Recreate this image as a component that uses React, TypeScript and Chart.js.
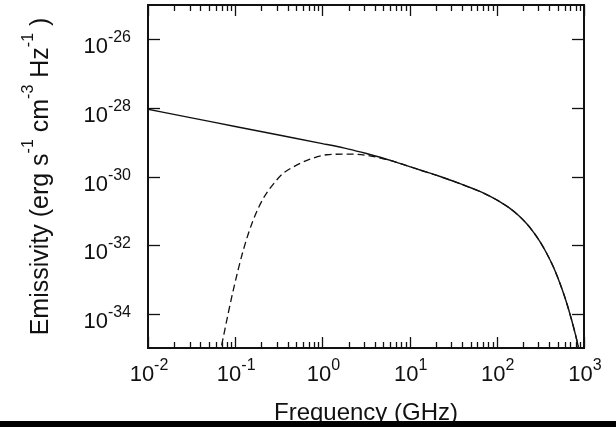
import React, { useEffect, useRef } from "react";
import { Chart, registerables } from "chart.js";

Chart.register(...registerables);

// Solid curve (no absorption)
const solidFreq = [0.01, 0.0316, 0.1, 0.316, 1, 2, 3.2, 4.6, 6.3, 10, 13.2, 22.4, 37.8, 63, 83, 110, 141.6, 177.8, 221.8, 263, 312.6, 371.5, 440.6, 501, 574, 645.7, 727.8, 794.3, 851, 891];
const solidEmis = [9.12e-29, 5.13e-29, 2.88e-29, 1.62e-29, 9.12e-30, 6.31e-30, 4.68e-30, 3.63e-30, 2.85e-30, 1.95e-30, 1.55e-30, 1.0e-30, 6.17e-31, 3.72e-31, 2.67e-31, 1.8e-31, 1.18e-31, 7.31e-32, 4.11e-32, 2.4e-32, 1.26e-32, 5.89e-33, 2.45e-33, 1.12e-33, 4.37e-34, 1.74e-34, 6.03e-35, 2.57e-35, 1.23e-35, 7.08e-36];

// Dashed curve (low-frequency part; from ~6 GHz it follows the solid curve)
const dashedLowFreq = [0.066, 0.0731, 0.0951, 0.124, 0.161, 0.21, 0.299, 0.353, 0.463, 0.721, 1.12, 2.0, 3.5, 5.0];
const dashedLowEmis = [5.8e-36, 2.1e-35, 4.9e-34, 7.2e-33, 5.4e-32, 2.3e-31, 7.9e-31, 1.23e-30, 1.9e-30, 3.2e-30, 4.3e-30, 4.5e-30, 4.0e-30, 3.27e-30];
const mergeIndex = 8; // solid index from which the dashed curve coincides (6.3 GHz)

const xTickValues = [0.01, 0.1, 1, 10, 100, 1000];
const xTickExps = ["-2", "-1", "0", "1", "2", "3"];
const yTickValues = [1e-26, 1e-28, 1e-30, 1e-32, 1e-34];
const yTickExps = ["-26", "-28", "-30", "-32", "-34"];

const xTitle = "Frequency (GHz)";
const yTitleParts: [string, boolean][] = [
  ["Emissivity (erg s", false],
  ["-1", true],
  [" cm", false],
  ["-3", true],
  [" Hz", false],
  ["-1", true],
  [" )", false],
];

const FONT = '"Liberation Sans", Arial, Helvetica, sans-serif';
const INK = "#111";

function drawPow(ctx: CanvasRenderingContext2D, exp: string, anchorX: number, baseline: number, align: "center" | "right") {
  ctx.font = `22px ${FONT}`;
  const w1 = ctx.measureText("10").width;
  ctx.font = `16px ${FONT}`;
  const w2 = ctx.measureText(exp).width;
  const total = w1 + w2;
  const start = align === "center" ? anchorX - total / 2 : anchorX - total;
  ctx.textAlign = "left";
  ctx.textBaseline = "alphabetic";
  ctx.font = `22px ${FONT}`;
  ctx.fillText("10", start, baseline);
  ctx.font = `16px ${FONT}`;
  ctx.fillText(exp, start + w1, baseline - 11);
}

const gnuplotAxes = {
  id: "gnuplotAxes",
  afterDatasetsDraw(chart: any) {
    const ctx: CanvasRenderingContext2D = chart.ctx;
    const { left, right, top, bottom } = chart.chartArea;
    const xs = chart.scales.x;
    const ys = chart.scales.y;
    ctx.save();
    ctx.strokeStyle = INK;
    ctx.fillStyle = INK;

    const seg = (x1: number, y1: number, x2: number, y2: number) => {
      ctx.beginPath();
      ctx.moveTo(x1, y1);
      ctx.lineTo(x2, y2);
      ctx.stroke();
    };

    // ticks
    ctx.lineWidth = 1.3;
    xTickValues.forEach((v, i) => {
      const px = Math.round(xs.getPixelForValue(v)) + 0.5;
      seg(px, bottom, px, bottom - 11);
      seg(px, top, px, top + 11);
      if (i < xTickValues.length - 1) {
        for (let m = 2; m <= 9; m++) {
          const pm = Math.round(xs.getPixelForValue(v * m)) + 0.5;
          seg(pm, bottom, pm, bottom - 6);
          seg(pm, top, pm, top + 6);
        }
      }
    });
    yTickValues.forEach((v) => {
      const py = Math.round(ys.getPixelForValue(v)) + 0.5;
      seg(left, py, left + 12, py);
      seg(right, py, right - 12, py);
    });

    // border
    ctx.lineWidth = 2;
    ctx.strokeRect(left, top, right - left, bottom - top);

    // tick labels
    xTickValues.forEach((v, i) => {
      const px = xs.getPixelForValue(v);
      drawPow(ctx, xTickExps[i], px + 1, bottom + 33, "center");
    });
    yTickValues.forEach((v, i) => {
      const py = ys.getPixelForValue(v);
      drawPow(ctx, yTickExps[i], left - 17, py + 14, "right");
    });

    // x title
    ctx.font = `24px ${FONT}`;
    ctx.textAlign = "center";
    ctx.textBaseline = "alphabetic";
    ctx.fillText(xTitle, (left + right) / 2, 420);

    // y title (rotated, with superscripts)
    ctx.save();
    ctx.translate(48, (top + bottom) / 2);
    ctx.rotate(-Math.PI / 2);
    ctx.textAlign = "left";
    let total = 0;
    const widths = yTitleParts.map(([t, sup]) => {
      ctx.font = `${sup ? 16 : 25}px ${FONT}`;
      const w = ctx.measureText(t).width;
      total += w;
      return w;
    });
    let cx = -total / 2;
    yTitleParts.forEach(([t, sup], i) => {
      ctx.font = `${sup ? 16 : 25}px ${FONT}`;
      ctx.fillText(t, cx, sup ? -15 : 0);
      cx += widths[i];
    });
    ctx.restore();

    ctx.restore();
  },
  afterDraw(chart: any) {
    const ctx: CanvasRenderingContext2D = chart.ctx;
    ctx.save();
    ctx.fillStyle = "#000";
    ctx.fillRect(0, 421, chart.width, chart.height - 421);
    ctx.restore();
  },
};

export default function App() {
  const ref = useRef<HTMLCanvasElement | null>(null);

  useEffect(() => {
    document.body.style.margin = "0";
    const canvas = ref.current;
    if (!canvas) return;

    const solidData = solidFreq.map((f, i) => ({ x: f, y: solidEmis[i] }));
    const dashedData = dashedLowFreq
      .map((f, i) => ({ x: f, y: dashedLowEmis[i] }))
      .concat(solidFreq.slice(mergeIndex).map((f, i) => ({ x: f, y: solidEmis[mergeIndex + i] })));

    const chart = new Chart(canvas, {
      type: "line",
      data: {
        datasets: [
          {
            data: solidData,
            borderColor: INK,
            borderWidth: 1.4,
            pointRadius: 0,
            fill: false,
            cubicInterpolationMode: "monotone",
          },
          {
            data: dashedData,
            borderColor: INK,
            borderWidth: 1.3,
            borderDash: [7, 4],
            pointRadius: 0,
            fill: false,
            cubicInterpolationMode: "monotone",
          },
        ],
      },
      options: {
        responsive: false,
        animation: false,
        devicePixelRatio: 1,
        layout: { padding: { top: 5, right: 32, left: 0, bottom: 0 } },
        plugins: { legend: { display: false }, tooltip: { enabled: false } },
        scales: {
          x: {
            type: "logarithmic",
            min: 0.01,
            max: 1000,
            grid: { display: false },
            border: { display: false },
            ticks: { display: false },
            afterFit: (s: any) => {
              s.height = 79;
            },
          },
          y: {
            type: "logarithmic",
            min: 1e-35,
            max: 1e-25,
            grid: { display: false },
            border: { display: false },
            ticks: { display: false },
            afterFit: (s: any) => {
              s.width = 148;
            },
          },
        },
      },
      plugins: [gnuplotAxes],
    } as any);

    return () => chart.destroy();
  }, []);

  return <canvas ref={ref} width={616} height={427} style={{ display: "block", background: "#fff" }} />;
}
